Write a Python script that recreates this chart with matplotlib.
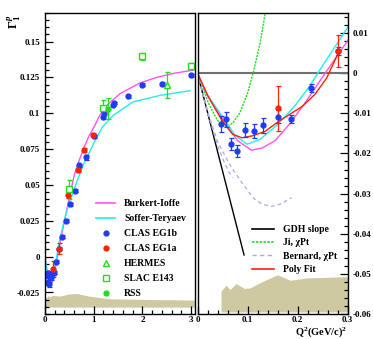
import matplotlib
matplotlib.use('Agg')
import matplotlib.pyplot as plt
from matplotlib.ticker import FixedLocator, MultipleLocator, FixedFormatter
from matplotlib.lines import Line2D

plt.rcParams['font.family'] = 'Liberation Serif'
plt.rcParams['font.weight'] = 'bold'
plt.rcParams['mathtext.fontset'] = 'custom'
plt.rcParams['mathtext.rm'] = 'Liberation Serif:bold'
plt.rcParams['mathtext.bf'] = 'Liberation Serif:bold'
plt.rcParams['mathtext.it'] = 'Liberation Serif:bold:italic'

# ---- data ----
# CLAS EG1b : Q2, Gamma1, error
eg1b_q2 = [0.047, 0.057, 0.066, 0.079, 0.094, 0.113, 0.131, 0.160, 0.187, 0.226, 0.281,
           0.356, 0.425, 0.510, 0.61, 0.70, 0.84, 1.01, 1.19, 1.21, 1.40, 1.41, 1.70, 2.00, 2.40, 2.99]
eg1b_g1 = [-0.0126, -0.0115, -0.0176, -0.0194, -0.0141, -0.0144, -0.0130, -0.0108, -0.0113, -0.0036, 0.0056,
           0.0138, 0.0252, 0.0364, 0.0460, 0.0637, 0.0692, 0.0840, 0.0972, 0.1002, 0.1058, 0.1072, 0.1120, 0.1200, 0.1206, 0.1264]
eg1b_err = [0.0020, 0.0018, 0.0015, 0.0016, 0.0018, 0.0018, 0.0018, 0.0016, 0.0010, 0.0010, 0.0010,
            0.0010, 0.0010, 0.0010, 0.0010, 0.0010, 0.0015, 0.0012, 0.0015, 0.0012, 0.0010, 0.0010, 0.0010, 0.0010, 0.0010, 0.0010]

# CLAS EG1a
eg1a_q2 = [0.160, 0.281, 0.466, 0.67, 0.805, 0.99]
eg1a_g1 = [-0.0087, 0.0055, 0.0428, 0.0604, 0.0743, 0.0847]
eg1a_err = [0.0056, 0.0039, 0.0022, 0.0015, 0.0015, 0.0015]

# HERMES
herm_q2 = [2.5]
herm_g1 = [0.1200]
herm_err = [0.009]

# SLAC E143
slac_q2 = [0.50, 1.19, 2.00, 2.99]
slac_g1 = [0.0470, 0.1037, 0.1398, 0.1330]
slac_err = [0.0066, 0.0056, 0.0025, 0.0020]

# RSS
rss_q2 = [1.287]
rss_g1 = [0.1033]
rss_err = [0.0074]

# model curves
bi_q2 = [0, 0.02, 0.05, 0.08, 0.108, 0.13, 0.155, 0.185, 0.218, 0.255, 0.3,
         0.4, 0.5, 0.6, 0.7, 0.8, 0.9, 1.0, 1.13, 1.27, 1.54, 1.95, 2.29, 2.63, 3.05]
bi_g1 = [0, -0.0055, -0.0115, -0.0168, -0.0192, -0.0186, -0.0168, -0.0125, -0.0068, 0.0, 0.0081,
         0.025, 0.041, 0.057, 0.067, 0.076, 0.084, 0.090, 0.099, 0.1056, 0.1137, 0.1212, 0.1250, 0.1278, 0.1302]

st_q2 = [0, 0.02, 0.05, 0.075, 0.099, 0.125, 0.158, 0.192, 0.225, 0.24, 0.3,
         0.4, 0.5, 0.56, 0.65, 0.8, 1.0, 1.18, 1.4, 1.81, 2.36, 2.98]
st_g1 = [0, -0.0055, -0.0108, -0.0155, -0.0177, -0.0165, -0.0130, -0.0085, -0.0031, 0.0, 0.0114,
         0.026, 0.038, 0.043, 0.052, 0.065, 0.079, 0.0905, 0.0986, 0.108, 0.1125, 0.1158]

poly_q2 = [0, 0.02, 0.049, 0.07, 0.089, 0.11, 0.135, 0.16, 0.185, 0.21, 0.235, 0.258, 0.281]
poly_g1 = [0, -0.0055, -0.0118, -0.0152, -0.0161, -0.0156, -0.0145, -0.0122, -0.0102, -0.0082, -0.0052, -0.0012, 0.0050]

ji_q2 = [0, 0.022, 0.04, 0.055, 0.07, 0.085, 0.1, 0.112, 0.125, 0.135]
ji_g1 = [0, -0.0075, -0.0118, -0.0133, -0.0125, -0.0098, -0.0050, 0.0005, 0.0075, 0.0148]

gdh_q2 = [0, 0.093]
gdh_g1 = [0, -0.0453]

bern_q2 = [0, 0.02, 0.04, 0.06, 0.072, 0.09, 0.112, 0.13, 0.148, 0.168, 0.188]
bern_g1 = [0, -0.0095, -0.0170, -0.0218, -0.0243, -0.0275, -0.0312, -0.0327, -0.0332, -0.0325, -0.0310]
bern2_q2 = [0, 0.02, 0.04, 0.052, 0.062, 0.07]
bern2_g1 = [0, -0.0098, -0.0180, -0.0218, -0.0245, -0.0260]

# systematic bands (top edge)
bandL_q2 = [0.0, 0.03, 0.07, 0.1, 0.15, 0.3, 0.5, 0.65, 0.9, 1.33, 2.0, 3.08]
bandL_top = [-0.0287, -0.0287, -0.0270, -0.0282, -0.0270, -0.0275, -0.0260, -0.0257, -0.0275, -0.0294, -0.0298, -0.0303]
bandL_bot = -0.0352
bandR_q2 = [0.047, 0.057, 0.065, 0.077, 0.093, 0.105, 0.128, 0.160, 0.185, 0.218, 0.3]
bandR_top = [-0.0543, -0.0528, -0.0539, -0.0524, -0.0536, -0.0535, -0.0520, -0.0502, -0.0516, -0.0510, -0.0507]
bandR_bot = -0.0595

blue = '#1f3cf5'
red = '#ff2200'
green = '#22dd22'
mag = '#ff55ee'
cyan = '#22eeee'
lav = '#aaaae6'
band = '#cfc9a2'

fig = plt.figure(figsize=(3.73, 3.39), dpi=100)
axL = fig.add_axes([45/373, 1-314/339, 150/373, 301/339])
axR = fig.add_axes([197.5/373, 1-314/339, 150.2/373, 301/339])

ebkw = dict(capsize=1.8, elinewidth=0.9, capthick=0.9, linestyle='none')

# ---- left panel ----
axL.fill_between(bandL_q2, bandL_bot, bandL_top, color=band, lw=0)
axL.plot(bi_q2, bi_g1, color=mag, lw=1.0)
axL.plot(st_q2, st_g1, color=cyan, lw=1.0)
axL.errorbar(eg1b_q2, eg1b_g1, yerr=eg1b_err, fmt='o', color=blue, ms=3.5, **ebkw)
axL.errorbar(eg1a_q2, eg1a_g1, yerr=eg1a_err, fmt='o', color=red, ms=3.5, **ebkw)
axL.errorbar(herm_q2, herm_g1, yerr=herm_err, fmt='^', color=green, mfc='white', ms=4, mew=1, **ebkw)
axL.errorbar(slac_q2, slac_g1, yerr=slac_err, fmt='s', color=green, mfc='white', ms=4, mew=1, **ebkw)
axL.errorbar(rss_q2, rss_g1, yerr=rss_err, fmt='o', color=green, ms=3.5, **ebkw)

axL.set_xlim(0, 3.08)
axL.set_ylim(-0.04, 0.17)
axL.xaxis.set_major_locator(FixedLocator([0, 1, 2, 3]))
axL.xaxis.set_major_formatter(FixedFormatter(['0', '1', '2', '3']))
axL.xaxis.set_minor_locator(MultipleLocator(0.2))
yl = [-0.025, 0, 0.025, 0.05, 0.075, 0.1, 0.125, 0.15]
axL.yaxis.set_major_locator(FixedLocator(yl))
axL.yaxis.set_major_formatter(FixedFormatter(['-0.025', '0', '0.025', '0.05', '0.075', '0.1', '0.125', '0.15']))
axL.yaxis.set_minor_locator(MultipleLocator(0.005))
axL.tick_params(which='both', direction='in', top=False, right=False, labelsize=6.5, width=0.9)
axL.tick_params(which='major', length=6)
axL.tick_params(which='minor', length=3)
axL.tick_params(axis='x', pad=1.5)

hL = [Line2D([], [], color=mag, lw=1.2),
      Line2D([], [], color=cyan, lw=1.2),
      Line2D([], [], color=blue, marker='o', ls='none', ms=3.5),
      Line2D([], [], color=red, marker='o', ls='none', ms=3.5),
      Line2D([], [], color=green, marker='^', mfc='white', ls='none', ms=4),
      Line2D([], [], color=green, marker='s', mfc='white', ls='none', ms=4),
      Line2D([], [], color=green, marker='o', ls='none', ms=3.5)]
lL = ['Burkert-Ioffe', 'Soffer-Teryaev', 'CLAS EG1b', 'CLAS EG1a', 'HERMES', 'SLAC E143', 'RSS']
axL.legend(hL, lL, loc='upper left', bbox_to_anchor=(96/373, 1-199/339),
           bbox_transform=fig.transFigure, frameon=False, fontsize=7,
           labelspacing=0.62, handlelength=2.0, handletextpad=0.9, borderpad=0, borderaxespad=0)

# ---- right panel ----
axR.fill_between(bandR_q2, bandR_bot, bandR_top, color=band, lw=0)
axR.plot([0, 0.3], [0, 0], color='#707070', lw=1.5)
axR.plot(gdh_q2, gdh_g1, color='black', lw=1.0)
axR.plot(ji_q2, ji_g1, color=green, lw=1.0, ls=(0, (1.5, 0.8)))
axR.plot(bern_q2, bern_g1, color=lav, lw=0.9, ls=(0, (3, 2.5)))
axR.plot(bern2_q2, bern2_g1, color=lav, lw=0.9, ls=(0, (3, 2.5)))
axR.plot(bi_q2, bi_g1, color=mag, lw=1.0)
axR.plot(st_q2, st_g1, color=cyan, lw=1.0)
axR.plot(poly_q2, poly_g1, color=red, lw=1.0)
axR.errorbar(eg1b_q2, eg1b_g1, yerr=eg1b_err, fmt='o', color=blue, ms=3.5, **ebkw)
axR.errorbar(eg1a_q2, eg1a_g1, yerr=eg1a_err, fmt='o', color=red, ms=3.5, **ebkw)

axR.set_xlim(0, 0.3)
axR.set_ylim(-0.06, 0.015)
axR.xaxis.set_major_locator(FixedLocator([0, 0.1, 0.2, 0.3]))
axR.xaxis.set_major_formatter(FixedFormatter(['0', '0.1', '0.2', '0.3']))
axR.xaxis.set_minor_locator(MultipleLocator(0.02))
yr = [-0.06, -0.05, -0.04, -0.03, -0.02, -0.01, 0, 0.01]
axR.yaxis.set_major_locator(FixedLocator(yr))
axR.yaxis.set_major_formatter(FixedFormatter(['-0.06', '-0.05', '-0.04', '-0.03', '-0.02', '-0.01', '0', '0.01']))
axR.yaxis.set_minor_locator(MultipleLocator(0.002))
axR.yaxis.tick_right()
axR.tick_params(which='both', direction='in', top=False, left=False, labelsize=6.5, width=0.9)
axR.tick_params(which='major', length=6)
axR.tick_params(which='minor', length=3)
axR.tick_params(axis='x', pad=1.5)

hR = [Line2D([], [], color='black', lw=1.2),
      Line2D([], [], color=green, lw=1.2, ls=(0, (1.5, 0.8))),
      Line2D([], [], color=lav, lw=1.0, ls=(0, (3, 2.5))),
      Line2D([], [], color=red, lw=1.2)]
lR = ['GDH slope', 'Ji, χPt', 'Bernard, χPt', 'Poly Fit']
axR.legend(hR, lR, loc='upper left', bbox_to_anchor=(252/373, 1-225/339),
           bbox_transform=fig.transFigure, frameon=False, fontsize=7,
           labelspacing=0.45, handlelength=2.3, handletextpad=0.9, borderpad=0, borderaxespad=0)

for ax in (axL, axR):
    for s in ax.spines.values():
        s.set_linewidth(1.0)

fig.text(14/373, 1-22/339, r'$\Gamma_1^p$', rotation=90, fontsize=9, ha='center', va='center')
fig.text(347/373, 1-335/339, r'Q$^2$(GeV/c)$^2$', fontsize=7.5, ha='right', va='baseline')

fig.savefig('out.png', dpi=100)
